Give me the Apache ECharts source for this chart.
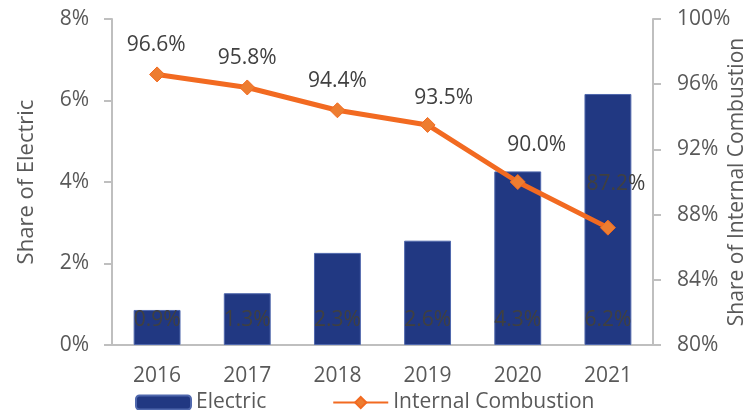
<!DOCTYPE html>
<html>
<head>
<meta charset="utf-8">
<script src="https://cdn.jsdelivr.net/npm/echarts@6/dist/echarts.min.js"></script>
<style>
  html, body { margin: 0; padding: 0; background: #fff; }
  #chart { width: 753px; height: 410px; }
</style>
</head>
<body>
<div id="chart"></div>
<script>
const years = ['2016', '2017', '2018', '2019', '2020', '2021']
// share of electric (%), bar heights as drawn; labels show one decimal
const electricShare = [0.86, 1.27, 2.26, 2.56, 4.26, 6.16]
// share of internal combustion (%)
const iceShare = [96.6, 95.8, 94.4, 93.5, 90.0, 87.2]

const leftTicks = { min: 0, max: 8, interval: 2 }
const rightTicks = { min: 80, max: 100, interval: 4 }

// hand placed label nudges, like the original spreadsheet
const iceLabelNudge = [[-1, 0], [0, 0], [0, 0], [16, 3], [19, -7], [8, -14]]

const font = '"Open Sans", sans-serif'
const grey = '#595959'
const fs = 21
const axisLine = { show: true, lineStyle: { color: '#bfbfbf', width: 2 } }

const chart = echarts.init(document.getElementById('chart'), null, { renderer: 'canvas' })

chart.setOption({
  animation: false,
  textStyle: { fontFamily: font },
  grid: { left: 112, right: 100, top: 19, bottom: 65, outerBoundsMode: 'none', containLabel: false },
  legend: {
    left: 130,
    top: 387,
    itemWidth: 55,
    itemHeight: 14,
    itemGap: 66,
    textStyle: { color: grey, fontSize: fs, fontFamily: font },
    data: ['Electric', 'Internal Combustion'],
  },
  xAxis: {
    type: 'category',
    data: years,
    axisLine,
    axisTick: { show: false },
    axisLabel: { color: grey, fontSize: fs, margin: 21 },
  },
  yAxis: [
    {
      type: 'value',
      ...leftTicks,
      name: 'Share of Electric',
      nameLocation: 'middle',
      nameGap: 74,
      nameRotate: 90,
      nameMoveOverlap: false,
      nameTextStyle: { color: grey, fontSize: 22 },
      axisLine,
      axisTick: { show: true, length: 8, lineStyle: { color: '#bfbfbf', width: 2 } },
      axisLabel: { color: grey, fontSize: fs, margin: 23, formatter: '{value}%' },
      splitLine: { show: false },
    },
    {
      type: 'value',
      ...rightTicks,
      name: 'Share of Internal Combustion',
      nameLocation: 'middle',
      nameGap: 74,
      nameRotate: 90,
      nameMoveOverlap: false,
      nameTextStyle: { color: grey, fontSize: 21 },
      axisLine,
      axisTick: { show: true, length: 8, lineStyle: { color: '#bfbfbf', width: 2 } },
      axisLabel: { color: grey, fontSize: fs, margin: 24, formatter: '{value}%' },
      splitLine: { show: false },
    },
  ],
  series: [
    {
      name: 'Electric',
      type: 'bar',
      data: electricShare,
      barWidth: '52%',
      itemStyle: { color: '#213882', borderColor: '#5068ad', borderWidth: 1 },
      label: {
        show: true,
        position: 'insideBottom',
        distance: 14,
        color: '#404040',
        fontSize: fs,
        formatter: p => p.value.toFixed(1) + '%',
      },
    },
    {
      name: 'Internal Combustion',
      type: 'line',
      yAxisIndex: 1,
      data: iceShare.map((v, i) => ({
        value: v,
        label: { offset: iceLabelNudge[i] },
      })),
      lineStyle: { color: '#f26a21', width: 5 },
      symbol: 'diamond',
      symbolSize: 15,
      itemStyle: { color: '#ed7d31', borderColor: '#f26a21', borderWidth: 1 },
      label: {
        show: true,
        position: 'top',
        distance: 11,
        color: '#404040',
        fontSize: fs,
        formatter: p => p.value.toFixed(1) + '%',
      },
      z: 5,
    },
  ],
})
</script>
</body>
</html>
